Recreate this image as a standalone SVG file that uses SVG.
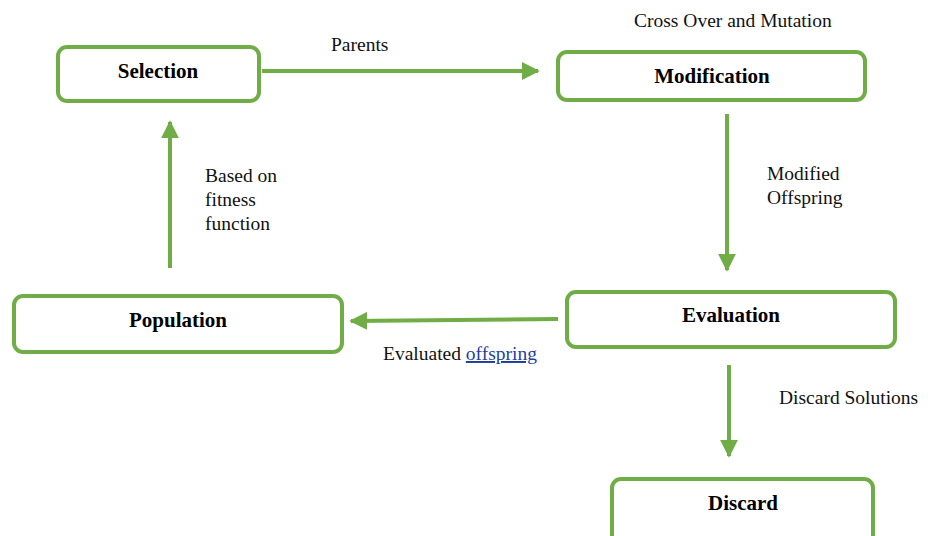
<svg xmlns="http://www.w3.org/2000/svg" width="933" height="536" viewBox="0 0 933 536">
<style>
.box{fill:#fff;stroke:#70AD47;stroke-width:4}
.t{font-family:'Liberation Serif','Times New Roman','DejaVu Serif',serif;font-size:21px;font-weight:bold;fill:#000;text-anchor:middle}
.l{font-family:'Liberation Serif','Times New Roman','DejaVu Serif',serif;font-size:19.5px;fill:#111}
.c{stroke:#70AD47;stroke-width:4;fill:none;marker-end:url(#ah)}
</style>
<defs>
<marker id="ah" viewBox="0 0 10 10" refX="9" refY="5" markerWidth="4.5" markerHeight="4.5" orient="auto" markerUnits="strokeWidth">
<path d="M0,0 L10,5 L0,10 z" fill="#70AD47"/>
</marker>
</defs>
<rect width="933" height="536" fill="#fff"/>
<g id="connectors">
<line class="c" x1="262" y1="71" x2="538" y2="71"/>
<line class="c" x1="727" y1="114" x2="727" y2="270"/>
<line class="c" x1="558" y1="319" x2="351" y2="321"/>
<line class="c" x1="170" y1="268" x2="170" y2="122"/>
<line class="c" x1="729" y1="365" x2="729" y2="456"/>
</g>
<g id="selection">
<rect class="box" x="58" y="47" width="201" height="54" rx="9"/>
<text class="t" x="158" y="78">Selection</text>
</g>
<g id="modification">
<rect class="box" x="558" y="52" width="307" height="48" rx="9"/>
<text class="t" x="712" y="83">Modification</text>
</g>
<g id="population">
<rect class="box" x="14" y="296" width="328" height="56" rx="9"/>
<text class="t" x="178" y="327">Population</text>
</g>
<g id="evaluation">
<rect class="box" x="567" y="292" width="328" height="55" rx="9"/>
<text class="t" x="731" y="322">Evaluation</text>
</g>
<g id="discard">
<rect class="box" x="612" y="479" width="261" height="70" rx="9"/>
<text class="t" x="743" y="510">Discard</text>
</g>
<g id="labels">
<text class="l" x="331" y="51">Parents</text>
<text class="l" x="634" y="27">Cross Over and Mutation</text>
<text class="l" x="767" y="180">Modified</text>
<text class="l" x="767" y="204">Offspring</text>
<text class="l" x="205" y="182">Based on</text>
<text class="l" x="205" y="206">fitness</text>
<text class="l" x="205" y="230">function</text>
<text class="l" x="383" y="360">Evaluated <tspan fill="#1F3F9F" text-decoration="underline">offspring</tspan></text>
<text class="l" x="779" y="404">Discard Solutions</text>
</g>
</svg>
